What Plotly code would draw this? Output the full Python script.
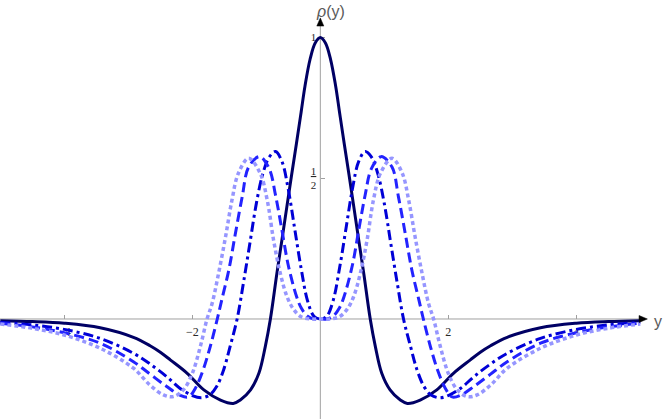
import numpy as np
import plotly.graph_objects as go

# valores (mitad y >= 0, la curva es simetrica)
y_solid = [0, 0.08, 0.16, 0.24, 0.3, 0.365, 0.45, 0.6, 0.68, 0.78, 0.86, 0.96, 1.09, 1.25, 1.36,
           1.56, 1.82, 2.08, 2.34, 2.5, 2.66, 2.92, 3.44, 4.0, 4.5, 5.0]
rho_solid = [1.0, 0.981, 0.923, 0.827, 0.735, 0.636, 0.51, 0.281, 0.16, 0.0, -0.098, -0.193, -0.252, -0.288, -0.30,
             -0.288, -0.252, -0.193, -0.146, -0.118, -0.095, -0.065, -0.031, -0.015, -0.009, -0.006]

y_dashdot = [0, 0.1, 0.2, 0.3, 0.4, 0.5, 0.6, 0.7, 0.8, 0.9, 1.0, 1.1, 1.2, 1.3,
             1.41, 1.51, 1.62, 1.73, 1.86, 2.0, 2.2, 2.4, 2.66, 2.92, 3.44, 4.0, 4.5, 5.0]
rho_dashdot = [0, 0.01, 0.065, 0.18, 0.32, 0.46, 0.56, 0.595, 0.575, 0.515, 0.41, 0.27, 0.13, 0.0,
               -0.098, -0.18, -0.24, -0.27, -0.28, -0.272, -0.245, -0.205, -0.16, -0.122, -0.069, -0.037, -0.021, -0.012]

y_dashed = [0, 0.1, 0.2, 0.3, 0.37, 0.5, 0.6, 0.7, 0.8, 0.95, 1.12, 1.22, 1.33, 1.43, 1.54, 1.61,
            1.72, 1.83, 1.95, 2.06, 2.2, 2.4, 2.66, 2.92, 3.44, 4.0, 4.5, 5.0]
rho_dashed = [0, 0.0, 0.01, 0.04, 0.079, 0.19, 0.316, 0.44, 0.535, 0.577, 0.54, 0.435, 0.30, 0.174, 0.068, 0.0,
              -0.098, -0.18, -0.245, -0.277, -0.27, -0.24, -0.196, -0.152, -0.086, -0.049, -0.028, -0.015]

y_dotted = [0, 0.15, 0.3, 0.42, 0.52, 0.625, 0.73, 0.83, 0.94, 1.12, 1.28, 1.38, 1.48, 1.59, 1.69, 1.77,
            1.875, 2.0, 2.14, 2.3, 2.45, 2.66, 2.92, 3.44, 4.0, 4.5, 5.0]
rho_dotted = [0, 0.0, 0.008, 0.035, 0.079, 0.162, 0.28, 0.423, 0.518, 0.571, 0.518, 0.423, 0.293, 0.162, 0.056, 0.0,
              -0.098, -0.193, -0.252, -0.276, -0.27, -0.235, -0.175, -0.104, -0.057, -0.033, -0.018]

x_ticks = [-4, -2, 2, 4]
x_ticktext = ["\u22124", "\u22122", "2", "4"]
y_ticks = [0.5, 1]
y_ticktext = ["<u>1</u><br>2", "1"]


def espejo(x, r):
    x = np.asarray(x, dtype=float)
    r = np.asarray(r, dtype=float)
    return np.concatenate([-x[:0:-1], x]), np.concatenate([r[:0:-1], r])


curvas = [
    (y_solid, rho_solid, "rgb(0,0,100)", "solid", 3),
    (y_dashdot, rho_dashdot, "rgb(0,0,215)", "10px,4px,3px,4px", 3),
    (y_dashed, rho_dashed, "rgb(35,35,255)", "10px,5px", 3),
    (y_dotted, rho_dotted, "rgb(150,150,255)", "4px,3px", 3.5),
]

fig = go.Figure()
for xs, rs, color, dash, w in curvas:
    xx, rr = espejo(xs, rs)
    fig.add_trace(go.Scatter(x=xx, y=rr, mode="lines",
                             line=dict(color=color, width=w, dash=dash, shape="spline", smoothing=1.0),
                             hoverinfo="skip"))

x_rng = [-5.005, 5.37]
y_rng = [-0.3554, 1.1336]
axis_gray = "rgb(160,160,160)"

# ejes que se cruzan en el origen
fig.add_shape(type="line", x0=x_rng[0], x1=5.02, y0=0, y1=0, xref="x", yref="y",
              line=dict(color=axis_gray, width=1), layer="below")
fig.add_shape(type="line", x0=0, x1=0, y0=y_rng[0], y1=1.05, xref="x", yref="y",
              line=dict(color=axis_gray, width=1), layer="below")
# puntas de flecha
fig.add_shape(type="path", path="M 5.11 0 L 4.98 0.0125 L 4.98 -0.0125 Z", xref="x", yref="y",
              fillcolor="black", line=dict(color="black", width=0.5), layer="above")
fig.add_shape(type="path", path="M 0 1.07 L 0.055 1.041 L -0.055 1.041 Z", xref="x", yref="y",
              fillcolor="black", line=dict(color="black", width=0.5), layer="above")

fig.add_annotation(x=0.16, y=1.094, text="<i>\u03c1</i>(y)", showarrow=False,
                   font=dict(family="Liberation Sans", size=16, color="rgb(90,90,90)"))
fig.add_annotation(x=5.28, y=-0.01, text="y", showarrow=False,
                   font=dict(family="Liberation Sans", size=16, color="rgb(90,90,90)"))

fig.update_layout(
    width=664,
    height=419,
    margin=dict(l=0, r=0, t=0, b=0),
    paper_bgcolor="white",
    plot_bgcolor="white",
    showlegend=False,
    xaxis=dict(range=x_rng, anchor="free", position=0.3554 / (y_rng[1] - y_rng[0]),
               showgrid=False, zeroline=False, showline=False,
               tickvals=x_ticks, ticktext=x_ticktext, ticks="inside", ticklen=4,
               tickcolor=axis_gray, layer="below traces", ticklabelstandoff=4,
               tickfont=dict(family="Liberation Serif", size=12, color="rgb(40,40,40)")),
    yaxis=dict(range=y_rng, anchor="free", position=5.005 / (x_rng[1] - x_rng[0]),
               showgrid=False, zeroline=False, showline=False,
               tickvals=y_ticks, ticktext=y_ticktext, ticks="inside", ticklen=4,
               tickcolor=axis_gray, layer="below traces", ticklabelstandoff=4,
               tickfont=dict(family="Liberation Serif", size=11, color="rgb(40,40,40)")),
)

# sin margen del body para que la figura empiece en la esquina
fig.write_html("out.html", config={"displayModeBar": False},
               post_script="document.body.style.margin='0';")
